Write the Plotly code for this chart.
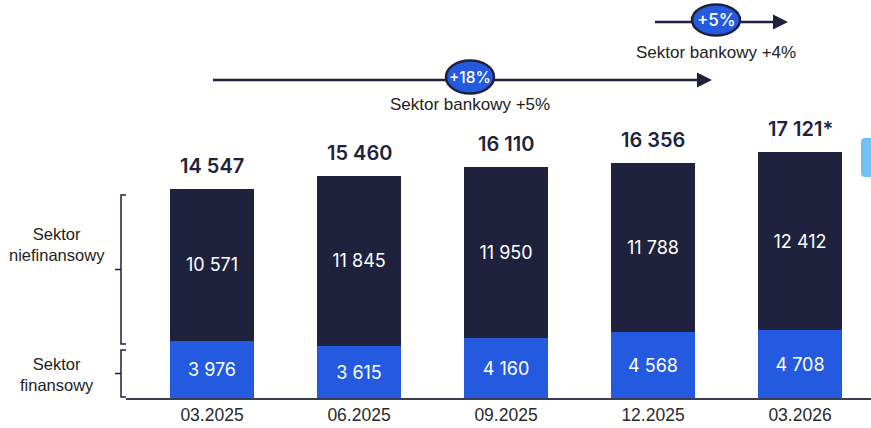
import plotly.graph_objects as go

# dane
okresy = ["03.2025", "06.2025", "09.2025", "12.2025", "03.2026"]
finansowy = [3976, 3615, 4160, 4568, 4708]
niefinansowy = [10571, 11845, 11950, 11788, 12412]
sumy = [14547, 15460, 16110, 16356, 17121]
sumy_txt = ["14 547", "15 460", "16 110", "16 356", "17 121*"]

NAVY = "#1e223d"
BLUE = "#245ae0"
W, H = 871, 428
L, B = 126, 30  # marginesy w pikselach


def fmt(v):
    return f"{v:,}".replace(",", " ")


def px(x):
    return (x - L) / (W - L)


def py(y):
    return (H - B - y) / (H - B)


xs = list(range(len(okresy)))

fig = go.Figure()
fig.add_trace(go.Bar(
    x=xs, y=finansowy, marker_color=BLUE, marker_line_width=0,
    text=[fmt(v) for v in finansowy], textposition="inside",
    insidetextanchor="middle", textangle=0,
    textfont=dict(color="white", size=18, family="Inter"),
    width=0.571, name="Sektor finansowy"))
fig.add_trace(go.Bar(
    x=xs, y=niefinansowy, marker_color=NAVY, marker_line_width=0,
    text=[fmt(v) for v in niefinansowy], textposition="inside",
    insidetextanchor="middle", textangle=0,
    textfont=dict(color="white", size=18, family="Inter"),
    width=0.571, name="Sektor niefinansowy"))

# sumy nad słupkami
for x, s, t in zip(xs, sumy, sumy_txt):
    fig.add_annotation(x=x, y=s, text=t, showarrow=False, yanchor="bottom",
                       yshift=9, font=dict(size=20, color=NAVY, family="Inter", weight=600))

shapes = []


def note(x, y, text, **font):
    fig.add_annotation(xref="paper", yref="paper", x=px(x), y=py(y), text=text,
                       showarrow=False, xanchor="center", yanchor="middle",
                       align="center", font=font)


def arrow(x0, x1, y, cx, cy, pct, fs, lab, ly, ew, eh):
    shapes.append(dict(type="line", xref="paper", yref="paper",
                       x0=px(x0), x1=px(x1 - 12), y0=py(y), y1=py(y),
                       line=dict(color=NAVY, width=2.5)))
    shapes.append(dict(type="path", xref="paper", yref="paper",
                       path=f"M {px(x1)} {py(y)} L {px(x1 - 15)} {py(y - 7.5)} L {px(x1 - 15)} {py(y + 7.5)} Z",
                       fillcolor=NAVY, line=dict(color=NAVY, width=0)))
    shapes.append(dict(type="circle", xref="paper", yref="paper",
                       x0=px(cx - ew / 2), x1=px(cx + ew / 2),
                       y0=py(cy - eh / 2), y1=py(cy + eh / 2),
                       fillcolor=BLUE, line=dict(color=NAVY, width=2.5)))
    note(cx, cy, pct, size=fs, color="white", family="Inter", weight=500)
    note(cx, ly, lab, size=17, color="#222", family="Liberation Sans")


arrow(213, 712, 80, 470, 77, "+18%", 15.5, "Sektor bankowy +5%", 105, 48, 33)
arrow(655, 788, 22, 716, 20, "+5%", 17, "Sektor bankowy +4%", 53, 48, 31)


def bracket(y0, y1, lab, ly):
    xm, xr, xt = 121, 126, 115
    ym = (y0 + y1) / 2
    path = (f"M {px(xr)} {py(y0)} L {px(xm)} {py(y0)} L {px(xm)} {py(y1)} L {px(xr)} {py(y1)} "
            f"M {px(xm)} {py(ym)} L {px(xt)} {py(ym)}")
    shapes.append(dict(type="path", xref="paper", yref="paper", path=path,
                       line=dict(color=NAVY, width=1.5)))
    note(57, ly, lab, size=16.5, color="#222", family="Liberation Sans")


bracket(195, 344, "Sektor<br>niefinansowy", 245)
bracket(350, 397, "Sektor<br>finansowy", 374)

# jasnoniebieski element przy prawej krawędzi (zaokrąglony)
r = 4
shapes.append(dict(type="path", xref="paper", yref="paper",
                   path=(f"M {px(871)} {py(138)} L {px(861 + r)} {py(138)} "
                         f"Q {px(861)} {py(138)} {px(861)} {py(138 + r)} "
                         f"L {px(861)} {py(177 - r)} Q {px(861)} {py(177)} {px(861 + r)} {py(177)} "
                         f"L {px(871)} {py(177)} Z"),
                   fillcolor="#72c0f6", line=dict(width=0)))

fig.update_layout(
    width=W, height=H, barmode="stack", showlegend=False,
    margin=dict(l=L, r=0, t=0, b=B, autoexpand=False),
    plot_bgcolor="white", paper_bgcolor="white", shapes=shapes,
    xaxis=dict(tickmode="array", tickvals=xs, ticktext=okresy,
               range=[(L - 212) / 147, (W - 212) / 147],
               showgrid=False, zeroline=False, showline=True, automargin=False,
               linecolor="#3a3f4f", linewidth=1.5, ticks="",
               tickfont=dict(size=17.5, color="#2a2a2a", family="Liberation Sans")),
    yaxis=dict(range=[0, (H - B) / 0.01437], visible=False, showgrid=False,
               automargin=False),
)

fig.write_html("out.html", config={"displayModeBar": False},
               post_script="document.body.style.margin='0';")
